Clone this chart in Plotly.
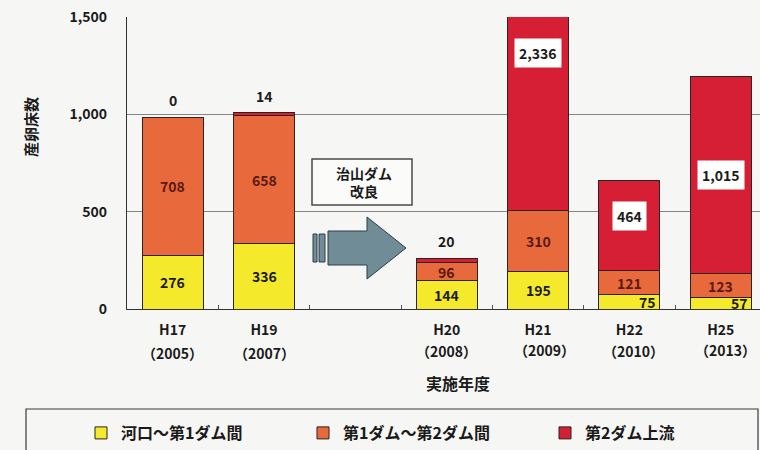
import plotly.graph_objects as go

# ---- data ----
periods = ["H17", "H19", "H20", "H21", "H22", "H25"]
years = ["（2005）", "（2007）", "（2008）", "（2009）", "（2010）", "（2013）"]
series_names = ["河口～第1ダム間", "第1ダム～第2ダム間", "第2ダム上流"]
lower = [276, 336, 144, 195, 75, 57]       # 河口～第1ダム間
middle = [708, 658, 96, 310, 121, 123]     # 第1ダム～第2ダム間
upper = [0, 14, 20, 2336, 464, 1015]       # 第2ダム上流
y_ticks = [0, 500, 1000, 1500]
spacer = " "
category_order = ["H17", "H19", spacer, "H20", "H21", "H22", "H25"]
note_text = "治山ダム<br>改良"
x_title = "実施年度"
y_title = "産卵床数"

# ---- style ----
W, H = 760, 450
L, R, T, B = 127, 0, 17, 141
PW, PH = W - L - R, H - T - B
YMAX = 1500
FONT = "Noto Sans CJK JP, Noto Sans, sans-serif"
YELLOW, ORANGE, RED = "#f4ea2b", "#e8693b", "#d61f35"
EDGE = "#2b2420"
BG = "#f6f6f4"
year_shift_y = [44, 44, 42, 41, 42, 41]
year_shift_x = [0, 0, 0, 6, 4, 5]
red_nudge = [0, 0, 0, 0, 10, 0]


def px(x):
    return (x - L) / PW


def py(y):
    return (H - B - y) / PH


fig = go.Figure()
colors = [YELLOW, ORANGE, RED]
legends = ["legend", "legend2", "legend3"]
for vals, name, col, lg in zip([lower, middle, upper], series_names, colors, legends):
    fig.add_bar(x=periods, y=vals, name=name, legend=lg, showlegend=True,
                marker=dict(color=col, line=dict(color=EDGE, width=1)),
                hoverinfo="x+y+name")

ann = []
bold = dict(family=FONT, size=14, color="#1a1a1a", weight="bold")
for i, p in enumerate(periods):
    lo, mi, up = lower[i], middle[i], upper[i]
    # lower segment label
    if lo >= 100:
        ann.append(dict(x=p, y=lo / 2, text=str(lo), showarrow=False,
                        font=bold, yanchor="middle"))
    else:
        ann.append(dict(x=p, y=lo / 2, text=str(lo), showarrow=False,
                        font=bold, xanchor="right", xshift=29, yanchor="middle"))
    # middle segment label
    ann.append(dict(x=p, y=lo + mi / 2, text=f"{mi:,}", showarrow=False,
                    font=dict(family=FONT, size=14, color="#5a1a12", weight="bold"),
                    yanchor="middle"))
    # upper segment label
    total = lo + mi + up
    if up < 100:
        ann.append(dict(x=p, y=total, text=f"{up:,}", showarrow=False, font=bold,
                        yanchor="middle", yshift=17))
    else:
        yc = lo + mi + up / 2
        if total > YMAX:
            yc = YMAX - 185
        ann.append(dict(x=p, y=yc, text=f"{up:,}", showarrow=False, font=bold,
                        yanchor="middle", yshift=red_nudge[i], bgcolor="#ffffff",
                        borderpad=4))
    # year line under tick label
    ann.append(dict(x=p, y=0, text=years[i], showarrow=False, font=bold,
                    yanchor="middle", yshift=-year_shift_y[i], xshift=year_shift_x[i]))

# axis titles
ann.append(dict(xref="paper", yref="paper", x=px(458), y=py(397), text=x_title,
                showarrow=False, font=dict(family=FONT, size=16, color="#1a1a1a", weight="bold")))
ann.append(dict(xref="paper", yref="paper", x=px(18), y=py(127.5), text=y_title,
                textangle=-90, showarrow=False,
                font=dict(family=FONT, size=15, color="#1a1a1a", weight="bold")))
# note box text
ann.append(dict(xref="paper", yref="paper", x=px(364), y=py(182), text=note_text,
                showarrow=False, yanchor="middle",
                font=dict(family=FONT, size=14, color="#1a1a1a", weight="bold")))

ARROW_FILL, ARROW_LINE = "#6f8c97", "#2f3d44"
shapes = [
    # note box
    dict(type="rect", xref="paper", yref="paper", x0=px(312), x1=px(412), y0=py(159), y1=py(205),
         line=dict(color="#4a4a4a", width=1.5), fillcolor="#fbfbf9", layer="below"),
    # arrow tail bars
    dict(type="rect", xref="paper", yref="paper", x0=px(313), x1=px(317), y0=py(234), y1=py(262),
         line=dict(color=ARROW_LINE, width=1), fillcolor=ARROW_FILL),
    dict(type="rect", xref="paper", yref="paper", x0=px(319), x1=px(325), y0=py(234), y1=py(262),
         line=dict(color=ARROW_LINE, width=1), fillcolor=ARROW_FILL),
    # arrow body + head
    dict(type="path", xref="paper", yref="paper",
         path=(f"M{px(328)},{py(231)} L{px(367)},{py(231)} L{px(367)},{py(217)} "
               f"L{px(406)},{py(248)} L{px(367)},{py(279)} L{px(367)},{py(265)} "
               f"L{px(328)},{py(265)} Z"),
         line=dict(color=ARROW_LINE, width=1), fillcolor=ARROW_FILL),
    # legend frame
    dict(type="rect", xref="paper", yref="paper", x0=px(26), x1=px(758), y0=py(409), y1=py(480),
         line=dict(color="#3a3a3a", width=1.2), fillcolor="rgba(0,0,0,0)"),
]

leg_common = dict(orientation="h", yanchor="middle", xanchor="left",
                  xref="container", yref="container", y=1 - 433 / H,
                  bgcolor="rgba(0,0,0,0)", borderwidth=0, itemwidth=30,
                  font=dict(family=FONT, size=16, color="#1a1a1a", weight="bold"))

fig.update_layout(
    width=W, height=H,
    showlegend=True,
    margin=dict(l=L, r=R, t=T, b=B, autoexpand=False),
    paper_bgcolor=BG, plot_bgcolor=BG,
    barmode="stack", bargap=0.33,
    font=dict(family=FONT, size=14, color="#1a1a1a"),
    annotations=ann, shapes=shapes,
    legend=dict(x=81 / W, **leg_common),
    legend2=dict(x=303 / W, **leg_common),
    legend3=dict(x=545 / W, **leg_common),
    xaxis=dict(type="category", categoryorder="array", categoryarray=category_order,
               range=[-0.5, 6.43], showline=True, linecolor="#333333", linewidth=1.2,
               ticks="inside", tickson="boundaries", ticklen=4, tickcolor="#555555",
               showgrid=False, ticklabelstandoff=8,
               tickfont=dict(family=FONT, size=14, color="#1a1a1a", weight="bold")),
    yaxis=dict(range=[0, YMAX], tickvals=y_ticks, tickformat=",d",
               showline=True, linecolor="#333333", linewidth=1.2,
               gridcolor="#858585", gridwidth=1, zeroline=False, ticks="",
               ticklabelstandoff=16,
               tickfont=dict(family=FONT, size=14, color="#1a1a1a", weight="bold")),
)

fig.write_html("out.html", config={"displayModeBar": False},
               post_script="document.body.style.margin='0px';")
